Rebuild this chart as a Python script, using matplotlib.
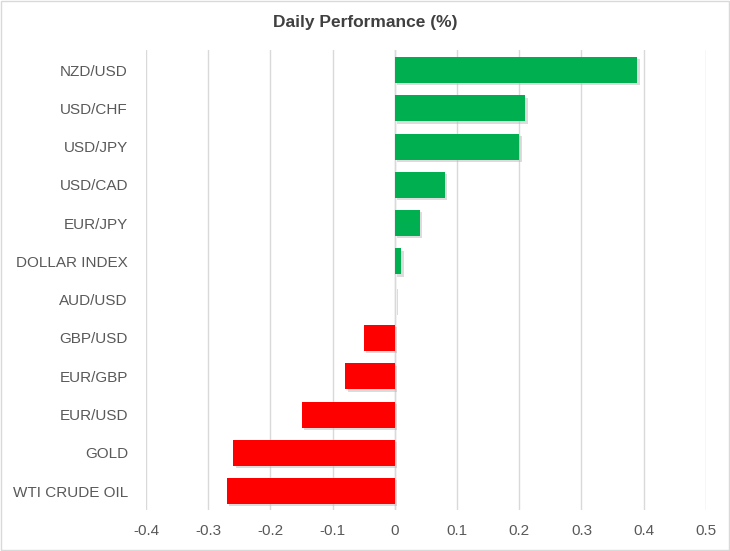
import matplotlib.pyplot as plt
from matplotlib.patches import Rectangle

# data
labels = ["NZD/USD", "USD/CHF", "USD/JPY", "USD/CAD", "EUR/JPY", "DOLLAR INDEX",
          "AUD/USD", "GBP/USD", "EUR/GBP", "EUR/USD", "GOLD", "WTI CRUDE OIL"]
values = [0.39, 0.21, 0.20, 0.08, 0.04, 0.01, 0.001, -0.05, -0.08, -0.15, -0.26, -0.27]
ticks = [-0.4, -0.3, -0.2, -0.1, 0, 0.1, 0.2, 0.3, 0.4, 0.5]
tick_labels = ["-0.4", "-0.3", "-0.2", "-0.1", "0", "0.1", "0.2", "0.3", "0.4", "0.5"]

plt.rcParams['font.family'] = ['Liberation Sans', 'DejaVu Sans']

fig = plt.figure(figsize=(7.3, 5.51), dpi=100)
ax = fig.add_axes([0.2, 0.074, 0.767, 0.835])

colors = []
for v in values:
    if v > 0.005:
        colors.append("#00B050")
    elif v < 0:
        colors.append("#FF0000")
    else:
        colors.append("#E8E8E8")

ypos = list(range(len(labels)))
# soft shadow under bars
ax.barh([y + 0.06 for y in ypos], values, height=0.68, left=0.004,
        color="#BBBBBB", alpha=0.5, zorder=2)
ax.barh(ypos, values, height=0.68, color=colors, zorder=3)

ax.set_xlim(-0.4, 0.5)
ax.set_ylim(len(labels) - 0.5, -0.52)
ax.set_xticks(ticks)
ax.set_xticklabels(tick_labels)
ax.set_yticks(ypos)
ax.set_yticklabels(labels)
ax.tick_params(axis='both', length=0, colors="#595959", labelsize=11)
ax.tick_params(axis='y', pad=13)
ax.tick_params(axis='x', pad=10)
ax.xaxis.grid(True, color="#D9D9D9", linewidth=1, zorder=0)
ax.axvline(0, color="#D9D9D9", linewidth=1, zorder=1)
for s in ax.spines.values():
    s.set_visible(False)

fig.text(0.5, 0.96, "Daily Performance (%)", ha="center", va="center",
         fontsize=12.5, fontweight="bold", color="#404040")

fig.patches.append(Rectangle((0.001, 0.001), 0.998, 0.998, transform=fig.transFigure,
                             fill=False, edgecolor="#D9D9D9", linewidth=1))

fig.savefig("out.png", dpi=100)
